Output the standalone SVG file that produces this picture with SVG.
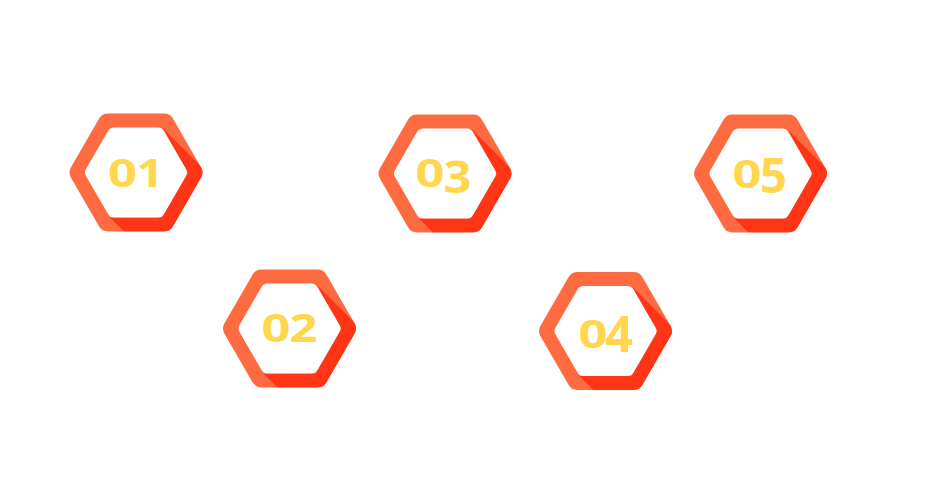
<svg xmlns="http://www.w3.org/2000/svg" xmlns:xlink="http://www.w3.org/1999/xlink" width="930" height="504" viewBox="0 0 930 504">
<style>
.outer{fill:#FF6B40}
.shade{fill:#FF3516}
.inner{fill:#FFFFFF}
.num{font-family:"Open Sans","Liberation Sans",sans-serif;font-weight:700;fill:#FFD64C;text-anchor:middle}
</style>
<defs>
<path id="outerHex" d="M-28,-58.9 L28,-58.9 Q34,-58.9 37,-53.7 L65,-5.2 Q68,0 65,5.2 L37,53.7 Q34,58.9 28,58.9 L-28,58.9 Q-34,58.9 -37,53.7 L-65,5.2 Q-68,0 -65,-5.2 L-37,-53.7 Q-34,-58.9 -28,-58.9 Z"/>
<clipPath id="clipOuter" clipPathUnits="userSpaceOnUse">
<use xlink:href="#outerHex"/>
</clipPath>
<g id="hexBadge">
<use xlink:href="#outerHex" class="outer"/>
<polygon class="shade" clip-path="url(#clipOuter)" points="26,-45 52,0 26,45 -26,45 74,145 126,55"/>
<path class="inner" d="M-22,-45 L22,-45 Q26,-45 28,-41.5 L50,-3.5 Q52,0 50,3.5 L28,41.5 Q26,45 22,45 L-22,45 Q-26,45 -28,41.5 L-50,3.5 Q-52,0 -50,-3.5 L-28,-41.5 Q-26,-45 -22,-45 Z"/>
</g>
</defs>
<g id="node-01" transform="translate(136,172.5)">
<use xlink:href="#hexBadge"/>
<text class="num" x="-13.5" y="14.5" font-size="39" textLength="29" lengthAdjust="spacingAndGlyphs">0</text>
<text class="num" x="14" y="14.5" font-size="39" textLength="27" lengthAdjust="spacingAndGlyphs">1</text>
</g>
<g id="node-02" transform="translate(289.5,328.5)">
<use xlink:href="#hexBadge"/>
<text class="num" x="-13.5" y="13.5" font-size="39" textLength="29" lengthAdjust="spacingAndGlyphs">0</text>
<text class="num" x="14" y="13.5" font-size="39" textLength="28" lengthAdjust="spacingAndGlyphs">2</text>
</g>
<g id="node-03" transform="translate(445,173.5)">
<use xlink:href="#hexBadge"/>
<text class="num" x="-15" y="13.5" font-size="39" textLength="29" lengthAdjust="spacingAndGlyphs">0</text>
<text class="num" x="12.5" y="19.5" font-size="45" textLength="28" lengthAdjust="spacingAndGlyphs">3</text>
</g>
<g id="node-04" transform="translate(605.5,331)">
<use xlink:href="#hexBadge"/>
<text class="num" x="-12.5" y="17" font-size="39" textLength="29" lengthAdjust="spacingAndGlyphs">0</text>
<text class="num" x="13.5" y="21" font-size="51" textLength="28" lengthAdjust="spacingAndGlyphs">4</text>
</g>
<g id="node-05" transform="translate(760.5,173.5)">
<use xlink:href="#hexBadge"/>
<text class="num" x="-13.5" y="14.5" font-size="39" textLength="29" lengthAdjust="spacingAndGlyphs">0</text>
<text class="num" x="13" y="19.5" font-size="48" textLength="27" lengthAdjust="spacingAndGlyphs">5</text>
</g>
<g id="connectors"></g>
</svg>
